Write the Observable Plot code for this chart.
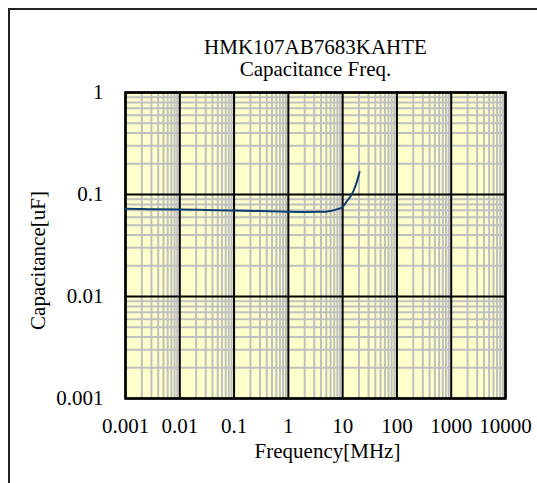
<!DOCTYPE html>
<html>
<head>
<meta charset="utf-8">
<script src="https://cdn.jsdelivr.net/npm/d3@7"></script>
<script src="https://cdn.jsdelivr.net/npm/@observablehq/plot@0.6"></script>
<style>
  html, body { margin: 0; padding: 0; background: #fff; }
  #wrap { position: relative; width: 537px; height: 483px; overflow: hidden; }
  #frame { position: absolute; left: 8px; top: 8px; width: 600px; height: 600px;
           border-left: 2px solid #222; border-top: 2px solid #222; }
  #chart { position: absolute; left: 0; top: 0; }
  #chart svg, #chart svg text { font-family: "Liberation Serif", serif !important; }
</style>
</head>
<body>
<div id="wrap"><div id="frame"></div><div id="chart"></div></div>
<script>
const titleLines = ["HMK107AB7683KAHTE", "Capacitance Freq."];
const xLabel = "Frequency[MHz]";
const yLabel = "Capacitance[uF]";
const xTicks = [0.001, 0.01, 0.1, 1, 10, 100, 1000, 10000];
const yTicks = [0.001, 0.01, 0.1, 1];
const freqMHz = [0.001, 0.003, 0.01, 0.03, 0.1, 0.3, 1, 2, 4, 6, 8, 10, 12, 14, 16, 18, 20.5];
const capUF  = [0.0723, 0.0718, 0.0713, 0.0705, 0.0697, 0.0688, 0.0677, 0.0674, 0.0676, 0.069, 0.0718, 0.0756, 0.086, 0.096, 0.110, 0.130, 0.166];

const data = freqMHz.map((f, i) => ({f, c: capUF[i]}));
const minorX = xTicks.slice(0, -1).flatMap(d => [2,3,4,5,6,7,8,9].map(k => d * k));
const minorY = yTicks.slice(0, -1).flatMap(d => [2,3,4,5,6,7,8,9].map(k => d * k));
const fmt = d => String(d);

const chart = Plot.plot({
  width: 537, height: 483,
  marginLeft: 125, marginRight: 32, marginTop: 92, marginBottom: 85,
  style: {fontSize: "21px", color: "#000", background: "transparent"},
  x: {type: "log", domain: [0.001, 10000], label: null},
  y: {type: "log", domain: [0.001, 1], label: null},
  marks: [
    Plot.frame({fill: "#ffffcc"}),
    Plot.ruleX(minorX, {stroke: "#c0c0c0", strokeWidth: 2}),
    Plot.ruleY(minorY, {stroke: "#c0c0c0", strokeWidth: 2}),
    Plot.ruleX(xTicks, {stroke: "#000", strokeWidth: 2}),
    Plot.ruleY(yTicks, {stroke: "#000", strokeWidth: 2}),
    Plot.frame({stroke: "#000", strokeWidth: 2.5}),
    Plot.axisX({ticks: xTicks, tickFormat: fmt, tickSize: 0, tickPadding: 20, fontSize: 21}),
    Plot.axisY({ticks: yTicks, tickFormat: fmt, tickSize: 0, tickPadding: 22, fontSize: 21}),
    Plot.line(data, {x: "f", y: "c", stroke: "#0d3f6e", strokeWidth: 2, curve: "monotone-x"}),
    Plot.text([titleLines[0]], {frameAnchor: "top", dy: -53, text: d => d, fontSize: 21}),
    Plot.text([titleLines[1]], {frameAnchor: "top", dy: -31, text: d => d, fontSize: 21}),
    Plot.text([xLabel], {frameAnchor: "bottom", dx: 12, dy: 59, text: d => d, fontSize: 21}),
    Plot.text([yLabel], {frameAnchor: "left", textAnchor: "middle", dx: -87, dy: 15, rotate: -90, text: d => d, fontSize: 21})
  ]
});
document.getElementById("chart").appendChild(chart);
</script>
</body>
</html>
